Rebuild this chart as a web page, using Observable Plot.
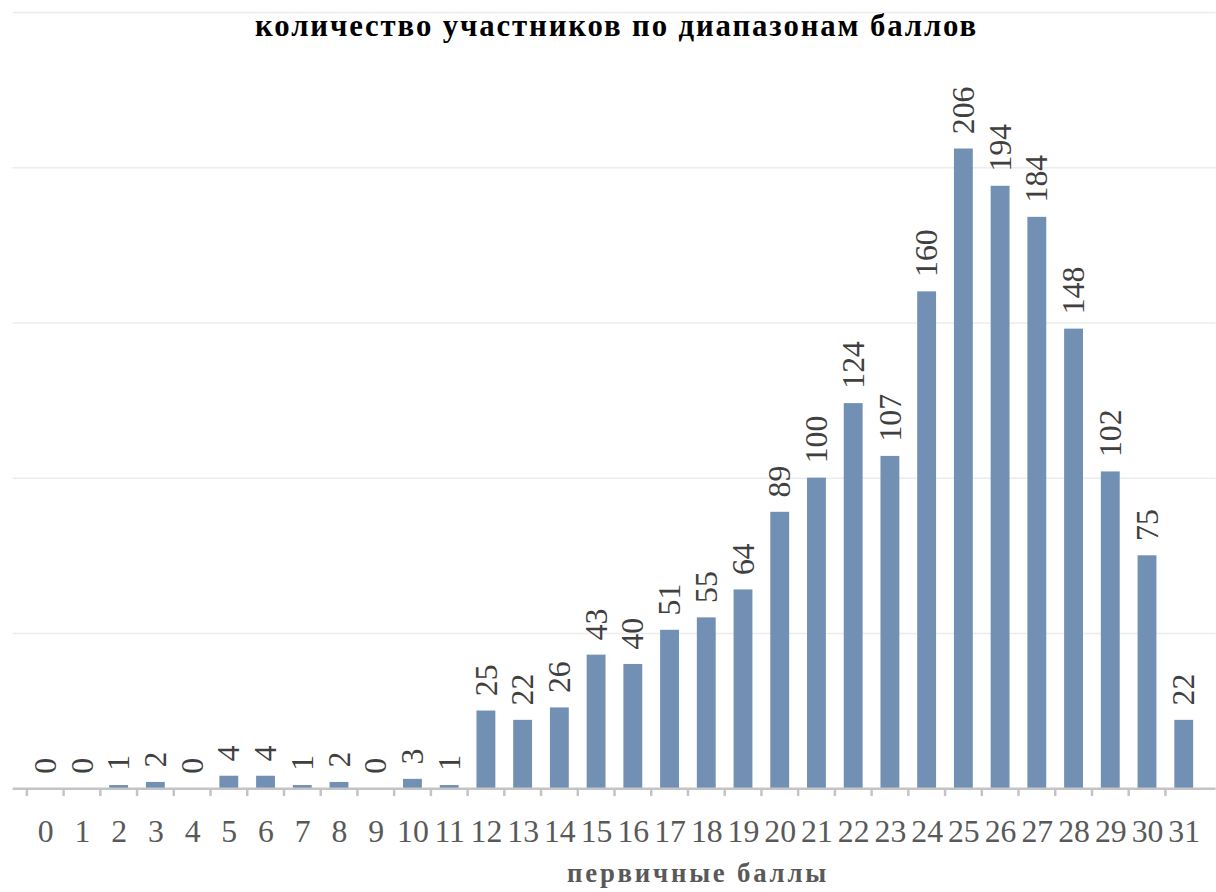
<!DOCTYPE html>
<html><head><meta charset="utf-8">
<script src="https://cdn.jsdelivr.net/npm/d3@7"></script>
<script src="https://cdn.jsdelivr.net/npm/@observablehq/plot@0.6"></script>
<style>
html,body{margin:0;padding:0;background:#fff;overflow:hidden;}
#wrap{width:1216px;height:892px;overflow:hidden;position:relative;}
</style></head><body><div id="wrap"></div>
<script>
const title = "количество участников по диапазонам баллов";
const xLabel = "первичные баллы";
const scores = [0,1,2,3,4,5,6,7,8,9,10,11,12,13,14,15,16,17,18,19,20,21,22,23,24,25,26,27,28,29,30,31];
const counts = [0,0,1,2,0,4,4,1,2,0,3,1,25,22,26,43,40,51,55,64,89,100,124,107,160,206,194,184,148,102,75,22];
const gridValues = [50,100,150,200,250];

const data = scores.map((s, i) => ({score: s, count: counts[i]}));
const font = "Liberation Serif";
const step = (1224.6 - 12.7) / scores.length;

const chart = Plot.plot({
  width: 1225,
  height: 892,
  marginLeft: 12.7,
  marginRight: 0.4,
  marginTop: 12,
  marginBottom: 98,
  style: {fontFamily: font, background: "#fff", overflow: "visible"},
  x: {type: "band", domain: scores, paddingInner: 0.485, paddingOuter: 0.2425, axis: null, label: null},
  y: {domain: [0, 250], axis: null, label: null},
  marks: [
    Plot.gridY(gridValues, {stroke: "#ececec", strokeOpacity: 1, strokeWidth: 1.5}),
    Plot.barY(data, {x: "score", y: "count", fill: "#7190b4"}),
    Plot.ruleY([0], {stroke: "#c4c4c4", strokeWidth: 2.5}),
    Plot.axisX({tickSize: 8, tickFormat: () => "", label: null, dx: -step / 2, stroke: "#c4c4c4", strokeWidth: 2.5}),
    Plot.axisX({tickSize: 0, tickPadding: 31, label: null, fontSize: 32, fill: "#595959", fontFamily: font}),
    Plot.text(data, {x: "score", y: "count", text: d => String(d.count), rotate: -90, textAnchor: "start", lineAnchor: "middle", dy: -15, fontSize: 32, fill: "#404040", fontFamily: font}),
    Plot.text([title], {frameAnchor: "top", dy: 14, dx: 2, lineAnchor: "middle", fontSize: 31, fontWeight: "bold", fill: "#000", fontFamily: font}),
    Plot.text([xLabel], {frameAnchor: "bottom", dx: 84, dy: 85, lineAnchor: "middle", fontSize: 27, fontWeight: "bold", fill: "#595959", fontFamily: font})
  ]
});
const sel = d3.select(chart);
sel.selectAll("text").style("font-family", "'Liberation Serif', serif").style("font-variant-numeric", "normal");
sel.selectAll("text").filter(function() { return this.textContent === title; }).style("letter-spacing", "1.9px");
sel.selectAll("text").filter(function() { return this.textContent === xLabel; }).style("letter-spacing", "2.8px");
document.getElementById("wrap").appendChild(chart);
</script>
</body></html>
